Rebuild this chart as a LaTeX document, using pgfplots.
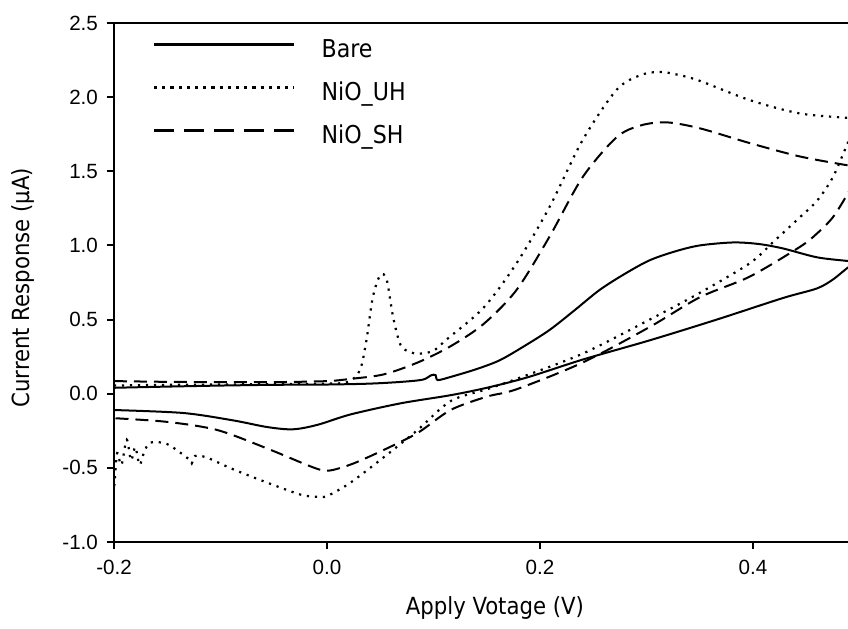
\documentclass[border=0pt]{standalone}
\usepackage{pgfplots}
\pgfplotsset{compat=1.18}
\usepackage{fontspec}
\setmainfont{Liberation Sans}
\newfontfamily\labelfont{DejaVu Sans Condensed}
\begin{document}
\begin{tikzpicture}
\path[use as bounding box] (0,0) rectangle (424pt,314pt);
\begin{axis}[
  at={(57pt,43pt)}, anchor=south west,
  scale only axis, width=367pt, height=259.5pt,
  xmin=-0.2, xmax=0.4892, ymin=-1, ymax=2.5,
  axis x line*=box, axis y line*=left,
  axis line style={line width=1pt,-},
  tick pos=left, tick align=outside, major tick length=3.5pt,
  tick style={line width=1pt, black},
  xtick={-0.2,0,0.2,0.4},
  ytick={-1,-0.5,0,0.5,1,1.5,2,2.5},
  /pgf/number format/assume math mode=true,
  /pgf/number format/fixed,
  /pgf/number format/fixed zerofill,
  /pgf/number format/precision=1,
  tick label style={font=\fontsize{10.3}{12}\selectfont},
  xticklabel style={/tikz/yshift=-2pt},
  yticklabel style={/tikz/xshift=-1pt},
  xlabel={Apply Votage (V)},
  ylabel={Current Response (μA)},
  label style={font=\labelfont\fontsize{11.8}{13}\selectfont},
  xlabel style={at={(axis description cs:0.519,-0.127)}, anchor=center},
  ylabel style={at={(axis description cs:-0.124,0.49)}, anchor=center},
  legend style={at={(axis description cs:0.0518,0.968)}, anchor=north west,
    draw=none, fill=none, inner sep=0pt, row sep=10.5pt, column sep=13pt,
    font=\labelfont\fontsize{12.3}{14}\selectfont,
    nodes={inner sep=0pt, text height=8.5pt, text depth=2.5pt}},
  legend cell align=left,
  legend image code/.code={\draw[#1] (0pt,3.2pt) -- (70pt,3.2pt);},
]
% Bare
\addplot[black, line width=1pt, smooth, tension=0.5, legend image post style={line width=1.4pt}] coordinates {
(-0.200,0.040) (-0.150,0.048) (-0.100,0.055) (-0.050,0.060) (0.000,0.062)
(0.040,0.068) (0.070,0.080) (0.090,0.095) (0.098,0.125) (0.102,0.125) (0.104,0.092)
(0.116,0.113) (0.140,0.165) (0.162,0.225) (0.185,0.32) (0.209,0.43) (0.232,0.56)
(0.256,0.70) (0.280,0.81) (0.303,0.90) (0.327,0.96) (0.350,1.00) (0.381,1.02)
(0.405,1.01) (0.428,0.98) (0.460,0.92) (0.489,0.895) (0.500,0.885)
(0.495,0.87) (0.489,0.85) (0.475,0.77) (0.460,0.71) (0.428,0.645) (0.366,0.50)
(0.303,0.36) (0.240,0.23) (0.188,0.11) (0.150,0.04) (0.116,-0.01) (0.069,-0.065)
(0.022,-0.14) (-0.009,-0.21) (-0.032,-0.24) (-0.056,-0.225) (-0.088,-0.18)
(-0.135,-0.13) (-0.200,-0.11)
};
\addlegendentry{Bare}
% NiO_UH
\addplot[black, line width=1.1pt, dash pattern=on 1.1pt off 2.9pt, smooth, tension=0.5,
  legend image post style={line width=1.6pt, dash pattern=on 1.6pt off 2.5pt}] coordinates {
(-0.200,0.055) (-0.150,0.060) (-0.100,0.062) (-0.050,0.065) (0.000,0.068)
(0.020,0.08) (0.031,0.16) (0.037,0.36) (0.043,0.65) (0.050,0.80) (0.056,0.77)
(0.062,0.52) (0.069,0.33) (0.078,0.28) (0.087,0.27) (0.100,0.29) (0.113,0.37)
(0.147,0.58) (0.178,0.88) (0.209,1.26) (0.240,1.71) (0.272,2.05) (0.295,2.15)
(0.313,2.17) (0.330,2.15) (0.350,2.11) (0.397,1.98) (0.444,1.89) (0.489,1.86)
(0.500,1.85)
(0.497,1.80) (0.489,1.69) (0.475,1.46) (0.460,1.30) (0.444,1.19) (0.420,1.03)
(0.397,0.88) (0.350,0.68) (0.303,0.50) (0.240,0.27) (0.178,0.10) (0.150,0.03)
(0.116,-0.05) (0.085,-0.245) (0.053,-0.43) (0.022,-0.60) (0.000,-0.69)
(-0.010,-0.695) (-0.025,-0.68) (-0.056,-0.60) (-0.088,-0.51) (-0.113,-0.43)
(-0.124,-0.42) (-0.127,-0.47) (-0.130,-0.44) (-0.150,-0.34) (-0.166,-0.33)
(-0.172,-0.40) (-0.176,-0.48) (-0.180,-0.36) (-0.184,-0.45) (-0.188,-0.31)
(-0.193,-0.48) (-0.197,-0.40) (-0.199,-0.56) (-0.200,-0.65)
};
\addlegendentry{NiO\_UH}
% NiO_SH
\addplot[black, line width=1pt, dash pattern=on 6.5pt off 3.5pt, smooth, tension=0.5,
  legend image post style={line width=1.3pt, dash pattern=on 10pt off 5pt}] coordinates {
(-0.200,0.085) (-0.150,0.080) (-0.100,0.078) (-0.050,0.078) (0.000,0.085)
(0.022,0.10) (0.053,0.13) (0.085,0.21) (0.116,0.32) (0.147,0.47) (0.178,0.70)
(0.209,1.06) (0.240,1.46) (0.272,1.73) (0.295,1.81) (0.319,1.83) (0.350,1.79)
(0.397,1.69) (0.444,1.60) (0.489,1.54) (0.500,1.53)
(0.496,1.45) (0.489,1.35) (0.475,1.19) (0.460,1.08) (0.444,0.99) (0.397,0.79)
(0.350,0.65) (0.303,0.45) (0.240,0.21) (0.178,0.03) (0.150,-0.02) (0.116,-0.11)
(0.085,-0.265) (0.053,-0.38) (0.025,-0.47) (0.005,-0.515) (-0.005,-0.515)
(-0.019,-0.48) (-0.056,-0.37) (-0.103,-0.245) (-0.150,-0.19) (-0.200,-0.165)
};
\addlegendentry{NiO\_SH}
\end{axis}
\end{tikzpicture}
\end{document}
